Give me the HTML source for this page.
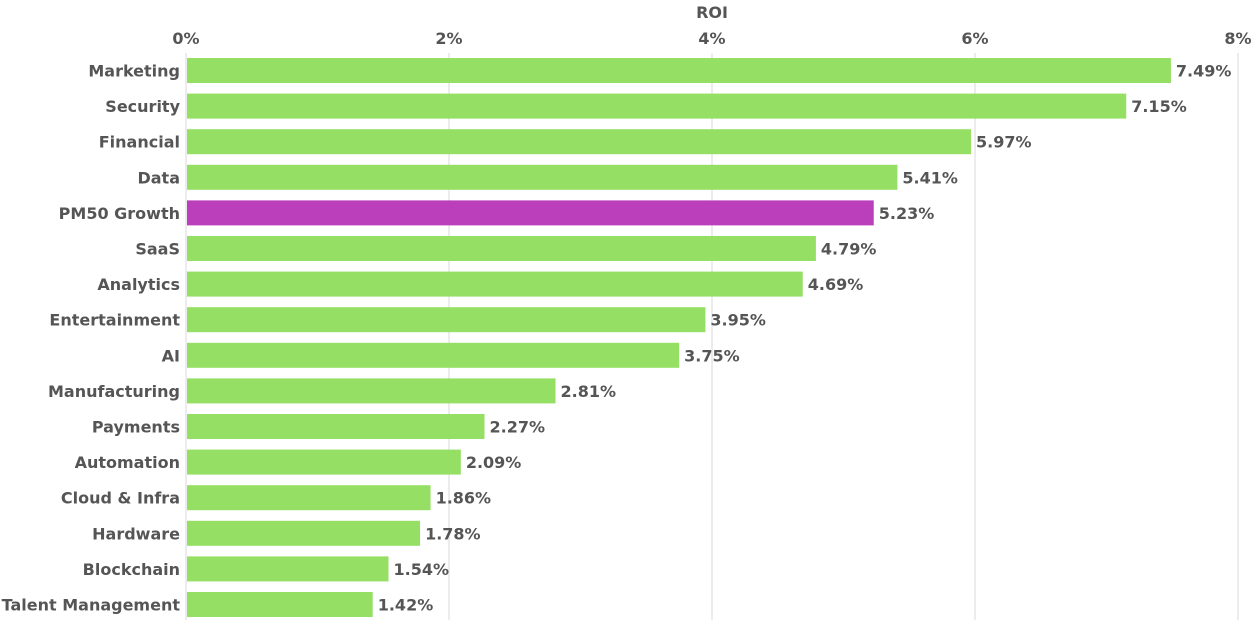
<!DOCTYPE html>
<html><head><meta charset="utf-8"><style>
body{margin:0;background:#fff;width:1252px;height:633px;overflow:hidden}
text{font-family:"DejaVu Sans","Liberation Sans",sans-serif;font-weight:bold;fill:#555;font-size:16px}
</style></head><body>
<svg id="chart" width="1252" height="633" xmlns="http://www.w3.org/2000/svg">
<text x="712" y="18" text-anchor="middle" font-size="15">ROI</text>
<g id="grid"></g><g id="bars"></g>
</svg>
<script>
const categories=["Marketing","Security","Financial","Data","PM50 Growth","SaaS","Analytics","Entertainment","AI","Manufacturing","Payments","Automation","Cloud & Infra","Hardware","Blockchain","Talent Management"];
const values=[7.49,7.15,5.97,5.41,5.23,4.79,4.69,3.95,3.75,2.81,2.27,2.09,1.86,1.78,1.54,1.42];
const highlight=["PM50 Growth"];
const ticks=[0,2,4,6,8];
const NS="http://www.w3.org/2000/svg";
const x=v=>186+v*131.5;
const yc=i=>70.5+i*35.6;
function mk(tag,attrs,parent,txt){const e=document.createElementNS(NS,tag);for(const k in attrs)e.setAttribute(k,attrs[k]);if(txt!=null)e.textContent=txt;parent.appendChild(e);return e;}
const grid=document.getElementById('grid'),bars=document.getElementById('bars');
ticks.forEach(t=>{
 const l=mk('line',{x1:x(t),x2:x(t),y1:53,y2:620,stroke:'#d9d9d9','stroke-width':1},grid);
 
 
 const tx=mk('text',{x:x(t),y:44,'text-anchor':'middle'},grid,t+'%');
 
 
});
categories.forEach((c,i)=>{
 const y=yc(i);
 const r=mk('rect',{x:x(0)+1,y:y-12.5,width:x(values[i])-x(0)-1,height:25,fill:highlight.includes(c)?'#bb3fbb':'#95df64'},bars);
 
 
 const lb=mk('text',{x:180,y:y+6,'text-anchor':'end'},bars,c);
 
 
 const v=mk('text',{x:x(values[i])+5,y:y+6},bars,values[i].toFixed(2)+'%');
 
 
});
</script>
</body></html>
